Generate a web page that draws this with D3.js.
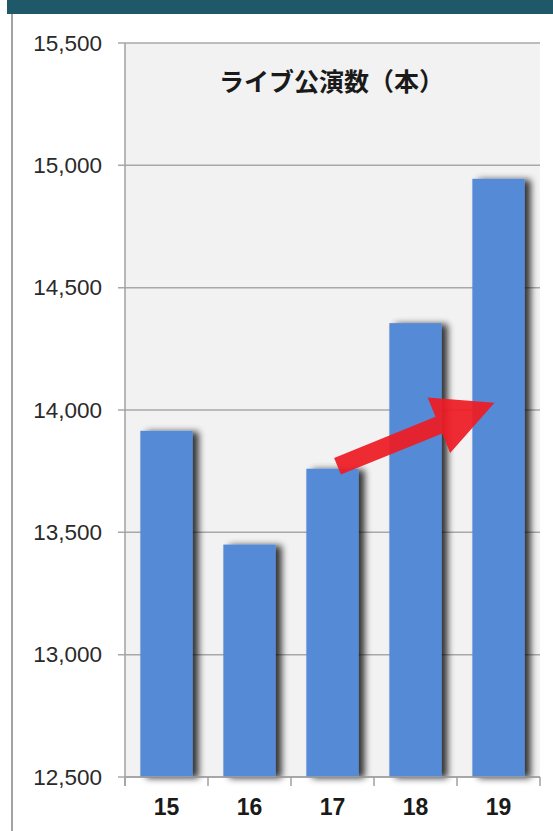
<!DOCTYPE html>
<html><head><meta charset="utf-8">
<script src="https://cdn.jsdelivr.net/npm/d3@7"></script>
<style>
html,body{margin:0;padding:0;background:#fff;}
svg{display:block;}
</style></head>
<body>
<svg id="chart" width="553" height="831"></svg>
<script>
const categories = ["15","16","17","18","19"];
const values = [13915, 13450, 13760, 14355, 14945];
const yTicks = [12500, 13000, 13500, 14000, 14500, 15000, 15500];
const titleText = "ライブ公演数（本）";
const arrowFrom = {cat:"17", value:13770};
const arrowTo = {cat:"19", value:14030};

(function(){
const svg = d3.select("#chart");
const pLeft = 125, pRight = 540, pTop = 43, pBottom = 777;

// frame
svg.append("rect").attr("x",7).attr("y",0).attr("width",546).attr("height",14).attr("fill","#1f5868");
svg.append("line").attr("x1",12).attr("x2",12).attr("y1",14).attr("y2",831)
  .attr("stroke","#a3a3a3").attr("stroke-width",2);

const x = d3.scaleBand().domain(categories).range([pLeft,pRight]).paddingInner(0.37).paddingOuter(0.185);
const xb = d3.scaleBand().domain(categories).range([pLeft,pRight]);
const y = d3.scaleLinear().domain([12500,15500]).range([pBottom,pTop]);

const defs = svg.append("defs");
const f = defs.append("filter").attr("id","sh").attr("x","-20%").attr("y","-5%").attr("width","160%").attr("height","110%");
f.append("feGaussianBlur").attr("in","SourceAlpha").attr("stdDeviation",3.5).attr("result","b");
f.append("feOffset").attr("in","b").attr("dx",6).attr("dy",1).attr("result","o");
f.append("feComponentTransfer").attr("in","o").attr("result","o2")
  .append("feFuncA").attr("type","linear").attr("slope",0.8);
const m = f.append("feMerge");
m.append("feMergeNode").attr("in","o2");
m.append("feMergeNode").attr("in","SourceGraphic");

// plot bg
svg.append("rect").attr("x",pLeft).attr("y",pTop).attr("width",pRight-pLeft).attr("height",pBottom-pTop).attr("fill","#f2f2f2");

// grid
svg.append("g").selectAll("line").data(yTicks).join("line")
  .attr("x1",pLeft-7).attr("x2",pRight).attr("y1",d=>y(d)).attr("y2",d=>y(d))
  .attr("stroke","#a8a8a8").attr("stroke-width",1.5);

// y axis
const yAxis = d3.axisLeft(y).tickValues(yTicks).tickFormat(d3.format(",")).tickSize(0).tickPadding(23);
const ga = svg.append("g").attr("transform",`translate(${pLeft},0)`).call(yAxis);
ga.select(".domain").remove();
ga.selectAll("text").attr("font-family","'Liberation Sans', Arial, sans-serif").attr("font-size",22.5).attr("fill","#2a2a2a");
svg.append("line").attr("x1",pLeft).attr("x2",pLeft).attr("y1",pTop).attr("y2",pBottom+9).attr("stroke","#a0a0a0").attr("stroke-width",1.5);

// bars
svg.append("g").selectAll("rect").data(values).join("rect")
  .attr("x",(d,i)=>x(categories[i])).attr("width",x.bandwidth())
  .attr("y",d=>y(d)).attr("height",d=>pBottom-y(d))
  .attr("fill","#558ad6").attr("filter","url(#sh)");

// x axis
svg.append("line").attr("x1",pLeft).attr("x2",pRight).attr("y1",pBottom).attr("y2",pBottom).attr("stroke","#a0a0a0").attr("stroke-width",1.5);
const bounds = categories.map(c=>xb(c)).concat([pRight]);
svg.append("g").selectAll("line").data(bounds).join("line")
  .attr("x1",d=>d).attr("x2",d=>d).attr("y1",pBottom).attr("y2",pBottom+9)
  .attr("stroke","#a0a0a0").attr("stroke-width",1.5);
svg.append("g").selectAll("text").data(categories).join("text")
  .attr("x",d=>xb(d)+xb.bandwidth()/2).attr("y",815)
  .attr("text-anchor","middle").attr("font-family","'Liberation Sans', Arial, sans-serif")
  .attr("font-weight","bold").attr("font-size",23).attr("fill","#1a1a1a").text(d=>d);

// title
svg.append("text").attr("x",219).attr("y",91)
  .attr("font-family","'Noto Sans CJK JP', sans-serif").attr("font-weight","bold")
  .attr("font-size",25).attr("fill","#1a1a1a").text(titleText);

// arrow
const x0 = xb(arrowFrom.cat)+xb.bandwidth()/2+5, y0 = y(arrowFrom.value);
const x1 = xb(arrowTo.cat)+xb.bandwidth()/2-4, y1 = y(arrowTo.value);
const ang = Math.atan2(y1-y0, x1-x0);
const len = Math.hypot(x1-x0,y1-y0);
const headLen = 60, headW = 30, shaftW = 9;
const pts = [[0,-shaftW],[len-headLen,-shaftW],[len-headLen,-headW],[len,0],[len-headLen,headW],[len-headLen,shaftW],[0,shaftW]];
svg.append("path")
  .attr("d", d3.line()(pts)+"Z")
  .attr("transform",`translate(${x0},${y0}) rotate(${ang*180/Math.PI})`)
  .attr("fill","#ee1c24").attr("fill-opacity",0.93);
})();
</script>
</body></html>
